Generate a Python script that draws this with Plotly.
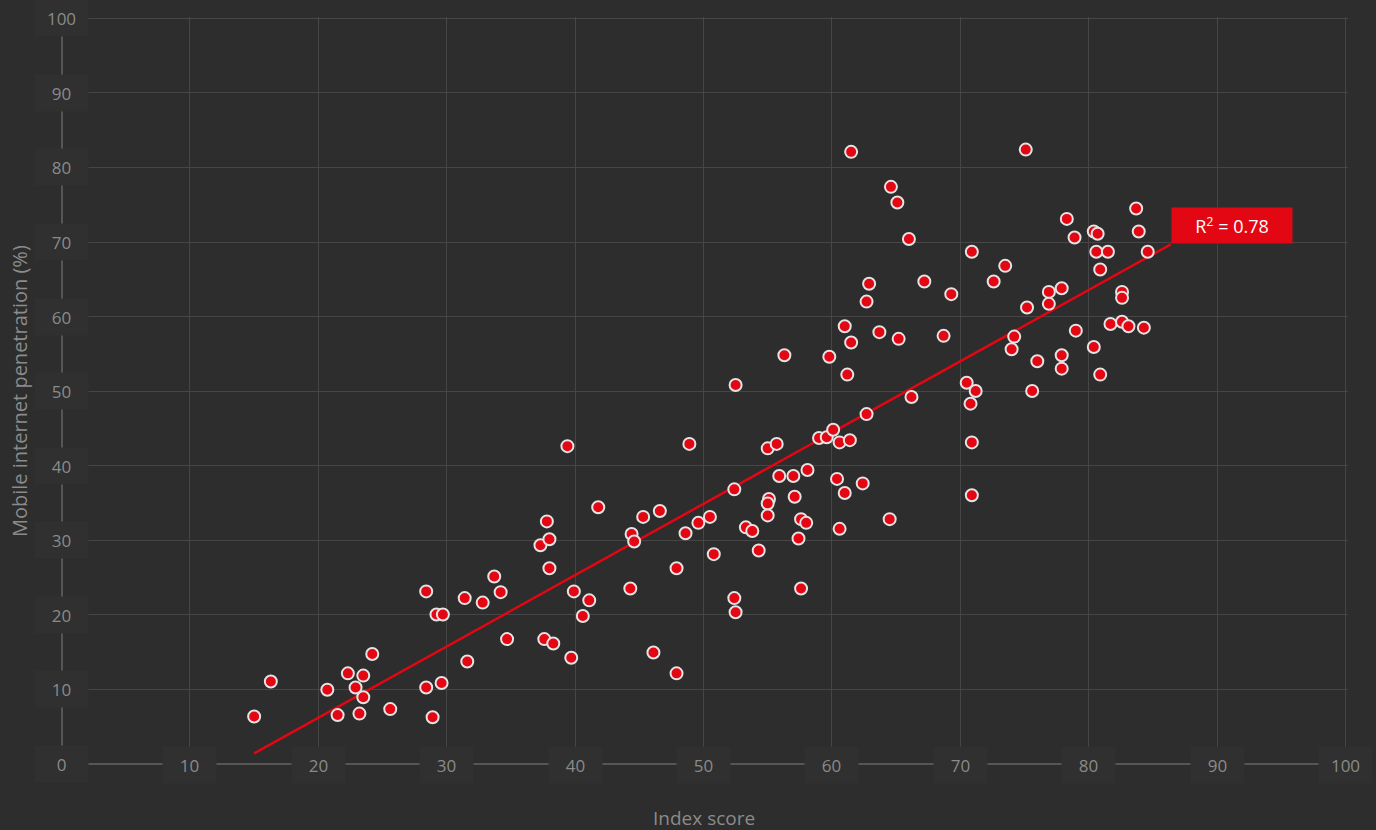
import plotly.graph_objects as go

# ---- data ----
index_score = [15.0, 16.3, 20.7, 21.5, 22.3, 22.9, 23.5, 23.5, 23.2, 24.2, 25.6, 28.4, 28.4, 28.9,
               29.2, 29.7, 29.6, 31.4, 31.6, 32.8, 33.7, 34.2, 34.7, 37.3, 37.8, 38.0, 38.0, 37.6,
               38.3, 39.4, 39.7, 39.9, 40.6, 41.1, 41.8, 44.3, 44.4, 44.6, 45.3, 46.1, 46.6, 47.9,
               47.9, 48.6, 48.9, 49.6, 50.5, 50.8, 52.4, 52.5, 52.4, 52.5, 53.3, 53.8, 54.3, 55.0,
               55.7, 55.1, 55.0, 55.0, 55.9, 56.3, 57.0, 57.1, 57.4, 57.6, 58.0, 57.6, 58.1, 59.0,
               59.6, 60.1, 60.6, 61.4, 59.8, 60.4, 60.6, 61.0, 61.0, 61.2, 61.5, 61.5, 62.4, 62.7,
               62.7, 62.9, 63.7, 64.5, 64.6, 65.1, 65.2, 66.0, 66.2, 67.2, 68.7, 69.3, 70.5, 70.8,
               70.9, 70.9, 70.9, 71.2, 72.6, 73.5, 74.0, 74.2, 75.1, 75.2, 75.6, 76.0, 76.9, 76.9,
               77.9, 77.9, 77.9, 78.3, 78.9, 79.0, 80.4, 80.7, 80.6, 80.4, 80.9, 80.9, 81.5, 81.7,
               82.6, 82.6, 82.6, 83.1, 83.7, 83.9, 84.3, 84.6]
penetration = [6.3, 11.0, 9.9, 6.5, 12.1, 10.2, 11.8, 8.9, 6.7, 14.7, 7.3, 23.1, 10.2, 6.2,
               20.0, 20.0, 10.8, 22.2, 13.7, 21.6, 25.1, 23.0, 16.7, 29.3, 32.5, 30.1, 26.2, 16.7,
               16.1, 42.6, 14.2, 23.1, 19.8, 21.9, 34.4, 23.5, 30.8, 29.8, 33.1, 14.9, 33.9, 26.2,
               12.1, 30.9, 42.9, 32.3, 33.1, 28.1, 36.8, 50.8, 22.2, 20.3, 31.7, 31.2, 28.6, 42.3,
               42.9, 35.5, 34.9, 33.3, 38.6, 54.8, 38.6, 35.8, 30.2, 32.8, 32.3, 23.5, 39.4, 43.7,
               43.8, 44.8, 43.1, 43.4, 54.6, 38.2, 31.5, 36.3, 58.7, 52.2, 56.5, 82.1, 37.6, 46.9,
               62.0, 64.4, 57.9, 32.8, 77.4, 75.3, 57.0, 70.4, 49.2, 64.7, 57.4, 63.0, 51.1, 48.3,
               68.7, 43.1, 36.0, 50.0, 64.7, 66.8, 55.6, 57.3, 82.4, 61.2, 50.0, 54.0, 63.3, 61.7,
               63.8, 54.8, 53.0, 73.1, 70.6, 58.1, 71.4, 71.1, 68.7, 55.9, 66.3, 52.2, 68.7, 59.0,
               63.3, 62.5, 59.3, 58.7, 74.5, 71.4, 58.5, 68.7]

fit_slope = 0.957
fit_intercept = -13.0
fit_x = [15.0, 86.4]
fit_y = [fit_slope * v + fit_intercept for v in fit_x]
r_squared_label = "R<sup>2</sup> = 0.78"

x_ticks = [10, 20, 30, 40, 50, 60, 70, 80, 90, 100]
y_ticks = [0, 10, 20, 30, 40, 50, 60, 70, 80, 90, 100]
x_title = "Index score"
y_title = "Mobile internet penetration (%)"

# ---- styles ----
BG = "#2c2d2c"
BOX = "#2f302f"
GRID = "#454645"
AXIS = "#555655"
TXT = "#8a8b8a"
RED = "#e30613"
FONT = "Open Sans"

fig = go.Figure()
fig.add_trace(go.Scatter(x=fit_x, y=fit_y, mode="lines",
                         line=dict(color=RED, width=2.5), hoverinfo="skip", showlegend=False))
fig.add_trace(go.Scatter(x=index_score, y=penetration, mode="markers",
                         marker=dict(color=RED, size=12, line=dict(color="#e4e4e4", width=2)),
                         showlegend=False))

annotations = []
for v in y_ticks:
    annotations.append(dict(x=0, y=v, xref="x", yref="y", text=str(v), showarrow=False,
                            width=53, height=36, bgcolor=BOX, borderpad=0,
                            xanchor="center", yanchor="middle",
                            font=dict(family=FONT, size=17, color=TXT)))
for v in x_ticks:
    annotations.append(dict(x=v, y=0, xref="x", yref="y", text=str(v), showarrow=False,
                            width=53, height=36, bgcolor=BOX, borderpad=0,
                            xanchor="center", yanchor="middle", yshift=-1,
                            font=dict(family=FONT, size=17, color=TXT)))
annotations.append(dict(x=fit_x[1], y=fit_y[1], xref="x", yref="y", text=r_squared_label,
                        showarrow=False, width=120, height=35, bgcolor=RED, borderpad=0,
                        xanchor="left", yanchor="bottom",
                        font=dict(family=FONT, size=18, color="#ffffff")))
annotations.append(dict(x=50, y=-0.0709, xref="x", yref="paper", text=x_title, showarrow=False,
                        xanchor="center", yanchor="middle",
                        font=dict(family=FONT, size=19, color=TXT)))
annotations.append(dict(x=-0.031, y=50, xref="paper", yref="y", text=y_title, showarrow=False,
                        textangle=-90, xanchor="center", yanchor="middle",
                        font=dict(family=FONT, size=20, color=TXT)))

fig.update_layout(
    width=1376, height=830,
    margin=dict(l=59, r=28, t=17, b=65),
    paper_bgcolor=BG, plot_bgcolor=BG,
    annotations=annotations,
    xaxis=dict(range=[-0.2, 100.2], tickvals=[0] + x_ticks, showticklabels=False,
               showgrid=True, gridcolor=GRID, gridwidth=1,
               zeroline=True, zerolinecolor=AXIS, zerolinewidth=2, showline=False, ticks=""),
    yaxis=dict(range=[-0.2, 100.2], tickvals=y_ticks, showticklabels=False,
               showgrid=True, gridcolor=GRID, gridwidth=1,
               zeroline=True, zerolinecolor=AXIS, zerolinewidth=2, showline=False, ticks=""),
    hovermode="closest",
)

fig.write_html(
    "out.html",
    config={"displayModeBar": False},
    post_script="document.body.style.margin='0';document.body.style.overflow='hidden';"
                "document.body.style.background='#2c2d2c';",
)
